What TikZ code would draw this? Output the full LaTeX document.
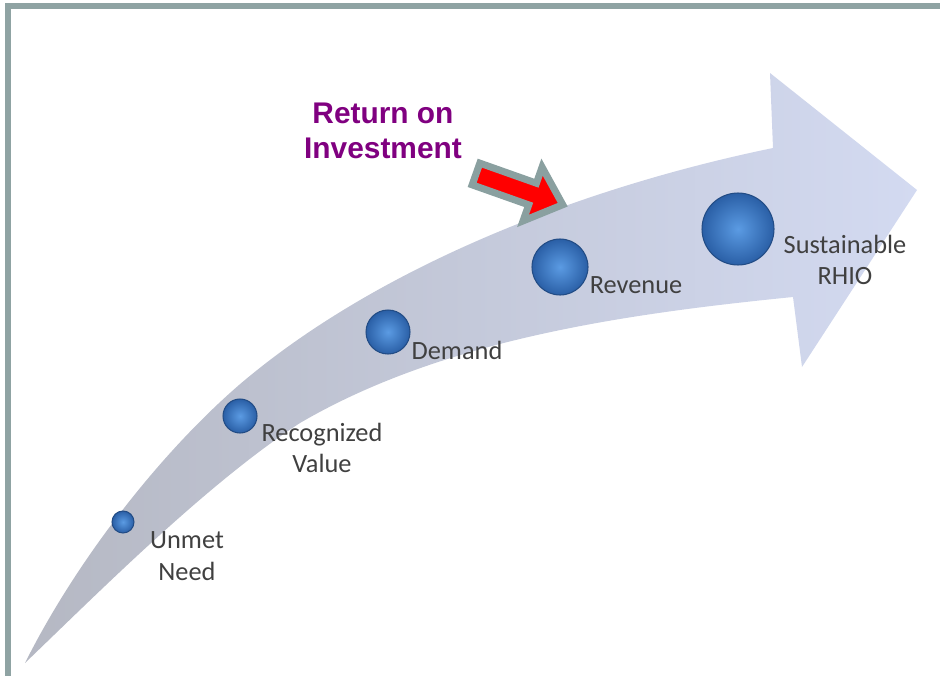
\documentclass[tikz,border=0pt]{standalone}
\usepackage{fontspec}
\setsansfont{Carlito}
\newfontfamily\roifont{Liberation Sans}
\usepackage{xcolor}
\definecolor{frameGray}{HTML}{8FA3A3}
\definecolor{arrowGray}{HTML}{B5B8C3}
\definecolor{arrowBlue}{HTML}{D3DAF1}
\definecolor{ballLight}{HTML}{5B9BE3}
\definecolor{ballDark}{HTML}{2A5FA6}
\definecolor{labelGray}{HTML}{404040}
\definecolor{roiPurple}{HTML}{800080}
\definecolor{roiRed}{HTML}{FF0000}
\definecolor{roiEdge}{HTML}{8AA0A0}
\usetikzlibrary{positioning}

\tikzset{
  stepBall/.style={circle, inner color=ballLight, outer color=ballDark, draw=ballDark!80!black, line width=0.6pt, inner sep=0pt},
  stepLabel/.style={font=\sffamily\fontsize{15}{18}\selectfont, text=labelGray, align=center},
}

\begin{document}
\begin{tikzpicture}[x=0.02cm, y=-0.02cm]

    \useasboundingbox (0,0) rectangle (940,676);

    % Frame (top and left only)
    \draw[frameGray, line width=3pt] (8,676) -- (8,6) -- (940,6);

    % Arrow body
    \shade[left color=arrowGray, right color=arrowBlue]
        (25,663) .. controls (74,565) and (156,457) .. (239,385)
        .. controls (376,268) and (579,188) .. (773,148)
        -- (770,73) -- (917,190) -- (802,367) -- (793,297)
        .. controls (623,314) and (442,340) .. (300,423)
        .. controls (208,483) and (104,587) .. (25,663)
        -- cycle;

    % Stages
    \foreach \n/\x/\y/\d in {unmet/123/522/0.44, recval/240/416/0.68, demand/388/332/0.88, revenue/560/267/1.12, rhio/738/229/1.44} {
        \node[stepBall, minimum size=\d cm] (\n) at (\x,\y) {};
    }

    \node[stepLabel] (unmetText) at (187,556) {Unmet\\Need};
    \node[stepLabel] (recvalText) at (322,448) {Recognized\\Value};
    \node[stepLabel] (demandText) at (457,350) {Demand};
    \node[stepLabel] (revenueText) at (636,285) {Revenue};
    \node[stepLabel] (rhioText) at (845,260) {Sustainable\\RHIO};

    % Return on Investment
    \node[roiPurple, font=\roifont\bfseries\fontsize{17}{20}\selectfont, align=center] (roiText) at (383,131) {Return on\\Investment};
    \begin{scope}[shift={(476,174)}, rotate=-19.5]
        \draw[fill=roiRed, draw=roiEdge, line width=4pt, line join=miter]
            (0,-11.5) -- (60,-11.5) -- (60,-28.5) -- (92,0) -- (60,28.5) -- (60,11.5) -- (0,11.5) -- cycle;
    \end{scope}

\end{tikzpicture}
\end{document}
